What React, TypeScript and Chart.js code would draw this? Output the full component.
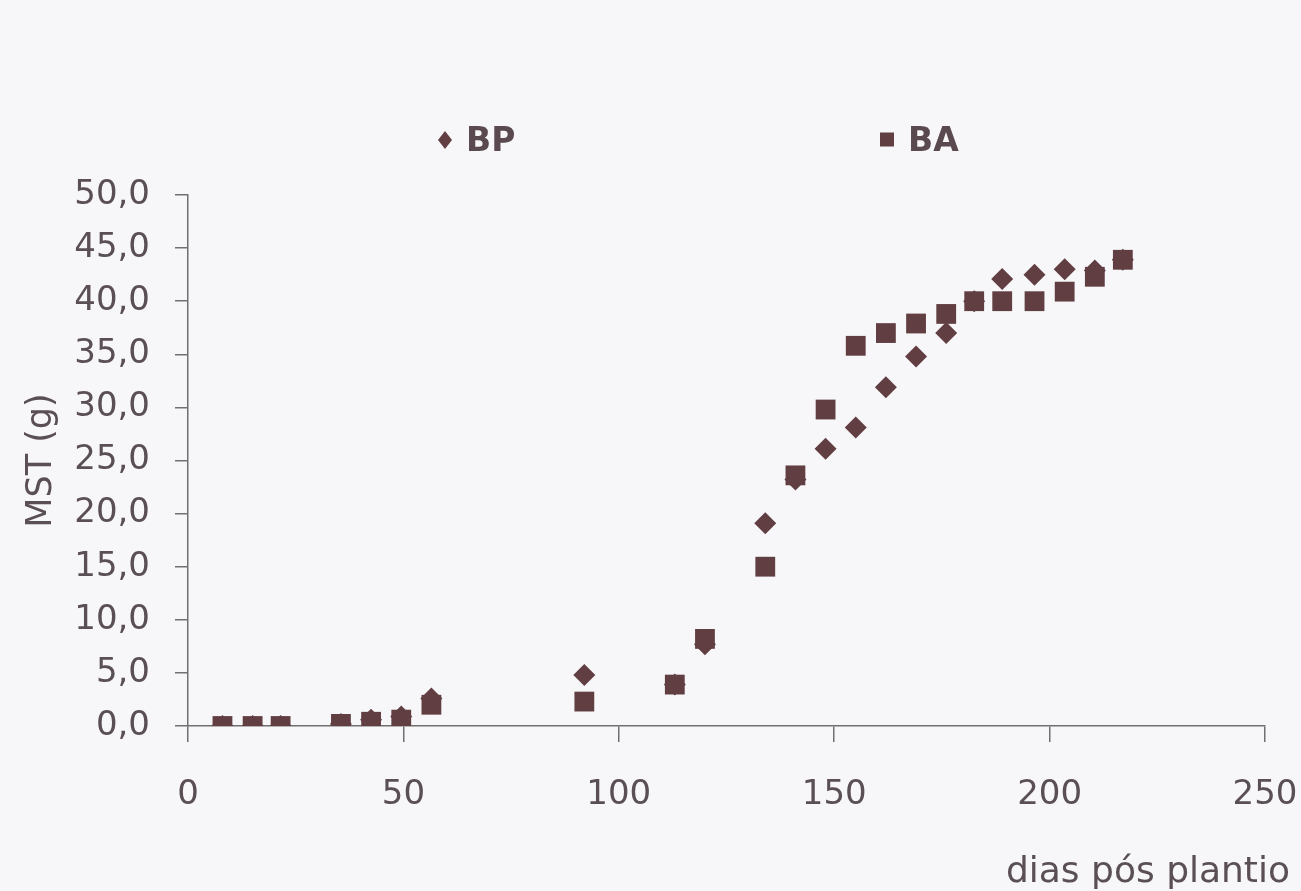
import React, { useEffect, useRef } from 'react';
import { Chart, registerables } from 'chart.js';

Chart.register(...registerables);

// ---- data ----
const days = [8, 15, 21.5, 35.5, 42.5, 49.5, 56.5, 92, 113, 120, 134, 141, 148, 155, 162, 169, 176, 182.5, 189, 196.5, 203.5, 210.5, 217];
const bpValues = [0.0, 0.0, 0.0, 0.2, 0.6, 0.9, 2.6, 4.8, 3.9, 7.7, 19.1, 23.2, 26.1, 28.1, 31.9, 34.8, 37.0, 40.0, 42.1, 42.5, 43.0, 42.9, 43.9];
const baValues = [0.0, 0.0, 0.0, 0.2, 0.4, 0.6, 2.0, 2.3, 3.9, 8.2, 15.0, 23.6, 29.8, 35.8, 37.0, 37.9, 38.8, 40.0, 40.0, 40.0, 40.9, 42.3, 43.9];
const seriesNames = ['BP', 'BA'];
const xTickLabels = ['0', '50', '100', '150', '200', '250'];
const yTickLabels = ['0,0', '5,0', '10,0', '15,0', '20,0', '25,0', '30,0', '35,0', '40,0', '45,0', '50,0'];
const xTitle = 'dias pós plantio';
const yTitle = 'MST (g)';

const MARK = '#613e42';
const TEXT = '#5a4f54';
const AXIS = '#707070';
const BG = '#f7f7f9';
const FONT = '"DejaVu Sans", Arial, sans-serif';

const W = 1301;
const H = 891;

const decor = {
  id: 'decor',
  beforeDraw(chart: any) {
    const ctx = chart.ctx;
    ctx.save();
    ctx.fillStyle = BG;
    ctx.fillRect(0, 0, chart.width, chart.height);
    ctx.restore();
  },
  afterDraw(chart: any) {
    const ctx = chart.ctx;
    ctx.save();
    // legend
    ctx.fillStyle = MARK;
    // diamond for BP
    ctx.beginPath();
    ctx.moveTo(445, 131);
    ctx.lineTo(452, 140);
    ctx.lineTo(445, 149);
    ctx.lineTo(438, 140);
    ctx.closePath();
    ctx.fill();
    // square for BA
    ctx.fillRect(880, 132.5, 14, 14);
    ctx.fillStyle = '#5a4a50';
    ctx.font = 'bold 33px ' + FONT;
    ctx.textAlign = 'left';
    ctx.textBaseline = 'alphabetic';
    ctx.fillText(seriesNames[0], 466, 151);
    ctx.fillText(seriesNames[1], 908, 151);
    // x axis title
    ctx.fillStyle = TEXT;
    ctx.font = '36px ' + FONT;
    ctx.textAlign = 'right';
    ctx.fillText(xTitle, 1290, 882);
    ctx.restore();
  },
};

export default function App() {
  const ref = useRef<HTMLCanvasElement | null>(null);

  useEffect(() => {
    if (!ref.current) return;
    const chart = new Chart(ref.current, {
      type: 'scatter',
      data: {
        datasets: [
          {
            label: seriesNames[1],
            data: days.map((d, i) => ({ x: d, y: baValues[i] })),
            pointStyle: 'rect',
            pointRadius: 14,
            pointHoverRadius: 14,
            backgroundColor: MARK,
            borderColor: MARK,
            borderWidth: 0,
          },
          {
            label: seriesNames[0],
            data: days.map((d, i) => ({ x: d, y: bpValues[i] })),
            pointStyle: 'rectRot',
            pointRadius: 11,
            pointHoverRadius: 11,
            backgroundColor: MARK,
            borderColor: MARK,
            borderWidth: 0,
          },
        ],
      },
      options: {
        animation: false,
        responsive: false,
        maintainAspectRatio: false,
        layout: { padding: { left: 0, top: 195, right: 36, bottom: 0 } },
        plugins: {
          legend: { display: false },
          tooltip: { enabled: false },
        },
        scales: {
          x: {
            type: 'linear',
            min: 0,
            max: 250,
            afterFit: (s: any) => {
              s.height = H - 726;
              s.paddingRight = 20;
              s.paddingLeft = 0;
            },
            ticks: {
              stepSize: 50,
              padding: 33,
              color: TEXT,
              font: { family: FONT, size: 34 },
              maxRotation: 0,
              callback: (_v: any, i: number) => xTickLabels[i],
            },
            grid: {
              display: true,
              drawOnChartArea: false,
              drawTicks: true,
              tickLength: 16,
              color: AXIS,
              lineWidth: 1.5,
            },
            border: { display: true, color: AXIS, width: 1.5 },
          },
          y: {
            type: 'linear',
            min: 0,
            max: 50,
            afterFit: (s: any) => {
              s.width = 188;
            },
            ticks: {
              stepSize: 5,
              padding: 25,
              color: TEXT,
              font: { family: FONT, size: 34 },
              callback: (_v: any, i: number) => yTickLabels[i],
            },
            grid: {
              display: true,
              drawOnChartArea: false,
              drawTicks: true,
              tickLength: 13,
              color: AXIS,
              lineWidth: 1.5,
            },
            border: { display: true, color: AXIS, width: 1.5 },
            title: {
              display: true,
              text: yTitle,
              color: TEXT,
              font: { family: FONT, size: 35 },
              padding: { top: 21, bottom: 0 },
            },
          },
        },
      },
      plugins: [decor],
    });
    return () => chart.destroy();
  }, []);

  return (
    <div style={{ position: 'absolute', left: 0, top: 0, width: W, height: H, background: BG }}>
      <canvas ref={ref} width={W} height={H} style={{ display: 'block', width: W, height: H }} />
    </div>
  );
}
